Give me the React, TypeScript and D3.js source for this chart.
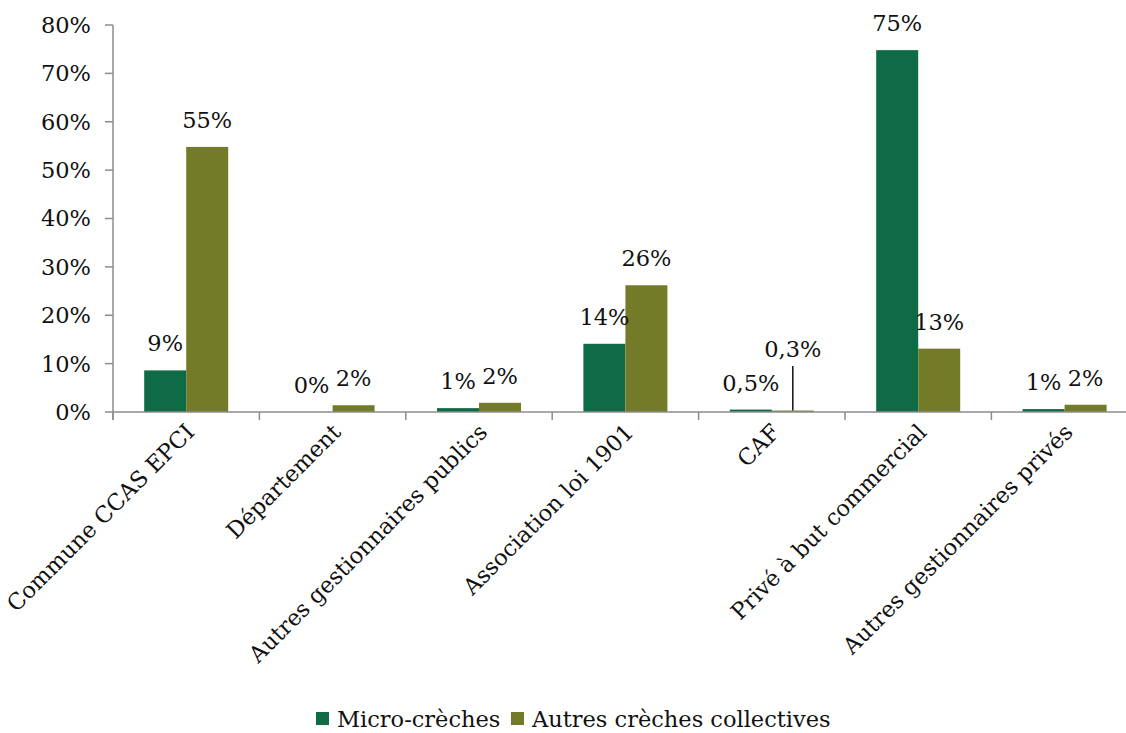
import React from "react";
import * as d3 from "d3";

const categories = [
  "Commune CCAS EPCI",
  "Département",
  "Autres gestionnaires publics",
  "Association loi 1901",
  "CAF",
  "Privé à but commercial",
  "Autres gestionnaires privés",
];
const microValues = [0.086, 0.0, 0.008, 0.141, 0.005, 0.748, 0.006];
const autresValues = [0.548, 0.014, 0.019, 0.262, 0.003, 0.131, 0.015];
const microLabels = ["9%", "0%", "1%", "14%", "0,5%", "75%", "1%"];
const autresLabels = ["55%", "2%", "2%", "26%", "0,3%", "13%", "2%"];
const yTicks = [0, 0.1, 0.2, 0.3, 0.4, 0.5, 0.6, 0.7, 0.8];
const seriesNames = ["Micro-crèches", "Autres crèches collectives"];

const GREEN = "#0e6b45";
const OLIVE = "#747b28";
const FONT = "'DejaVu Serif', serif";

export default function App() {
  const W = 1126;
  const H = 733;
  const left = 113;
  const band = 146.4;
  const x = d3
    .scaleBand<string>()
    .domain(categories)
    .range([left, left + band * categories.length])
    .paddingInner(0)
    .paddingOuter(0);
  const y = d3.scaleLinear().domain([0, 0.8]).range([412, 25]);
  const barW = 42;
  const fs = 22.5;

  return (
    <svg width={W} height={H} style={{ position: "absolute", left: 0, top: 0, fontFamily: FONT }}>
      <rect width={W} height={H} fill="#fff" />
      {/* y axis */}
      <line x1={left} x2={left} y1={y(0.8)} y2={y(0) + 8} stroke="#8c8c8c" strokeWidth={1.5} />
      {yTicks.map((t) => (
        <g key={t}>
          <line x1={left - 8} x2={left} y1={y(t)} y2={y(t)} stroke="#8c8c8c" strokeWidth={1.5} />
          <text x={left - 22} y={y(t)} dy="0.35em" textAnchor="end" fontSize={fs} fill="#111">
            {Math.round(t * 100)}%
          </text>
        </g>
      ))}
      {/* bars */}
      {categories.map((c, i) => {
        const cx = (x(c) as number) + x.bandwidth() / 2;
        return (
          <g key={c}>
            <rect x={cx - barW} y={y(microValues[i])} width={barW} height={y(0) - y(microValues[i])} fill={GREEN} />
            <rect x={cx} y={y(autresValues[i])} width={barW} height={y(0) - y(autresValues[i])} fill={OLIVE} />
          </g>
        );
      })}
      {/* x axis */}
      <line x1={left} x2={W} y1={y(0)} y2={y(0)} stroke="#8c8c8c" strokeWidth={1.5} />
      {categories.map((c) => (
        <line key={c} x1={x(c) as number} x2={x(c) as number} y1={y(0)} y2={y(0) + 8} stroke="#8c8c8c" strokeWidth={1.5} />
      ))}
      {/* data labels */}
      {categories.map((c, i) => {
        const cx = (x(c) as number) + x.bandwidth() / 2;
        const isCaf = c === "CAF";
        return (
          <g key={c} fontSize={fs} fill="#111" textAnchor="middle">
            <text x={cx - barW / 2} y={y(microValues[i]) - 19}>{microLabels[i]}</text>
            {isCaf ? (
              <g>
                <line x1={cx + barW / 2} x2={cx + barW / 2} y1={y(0) - 46} y2={y(autresValues[i])} stroke="#111" strokeWidth={1.5} />
                <text x={cx + barW / 2} y={y(0) - 55}>{autresLabels[i]}</text>
              </g>
            ) : (
              <text x={cx + barW / 2} y={y(autresValues[i]) - 19}>{autresLabels[i]}</text>
            )}
          </g>
        );
      })}
      {/* category labels */}
      {categories.map((c) => {
        const cx = (x(c) as number) + x.bandwidth() / 2 + 4;
        return (
          <text key={c} transform={`translate(${cx},${y(0) + 16}) rotate(-45)`} textAnchor="end" fontSize={fs} fill="#111" dy="0.35em">
            {c}
          </text>
        );
      })}
      {/* legend */}
      <g fontSize={fs} fill="#111">
        <rect x={316} y={712} width={13} height={13} fill={GREEN} />
        <text x={337} y={719} dy="0.35em">{seriesNames[0]}</text>
        <rect x={511} y={712} width={13} height={13} fill={OLIVE} />
        <text x={532} y={719} dy="0.35em">{seriesNames[1]}</text>
      </g>
    </svg>
  );
}
